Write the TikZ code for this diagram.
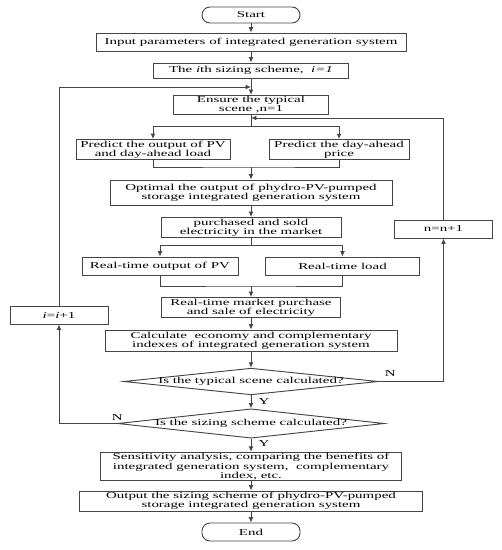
\documentclass[tikz,border=0pt]{standalone}
\usepackage{fontspec}
\setmainfont{Liberation Serif}[FakeStretch=1.65]
\usepackage{tikz}
\usetikzlibrary{arrows.meta}
\usetikzlibrary{shapes.geometric}
\usetikzlibrary{positioning}

\definecolor{linegray}{HTML}{454545}

\tikzset{
  box/.style={draw=linegray, line width=.7pt, align=center, inner sep=1pt},
  term/.style={box, rounded corners=6pt},
  decision/.style={draw=linegray, line width=.7pt, diamond, inner sep=0pt},
  flow/.style={draw=linegray, line width=.7pt, -{Latex[length=4pt,width=3.6pt]}},
  plain/.style={draw=linegray, line width=.7pt},
  yn/.style={font=\fontsize{6.8}{6.75}\selectfont}
}

\begin{document}
\begin{tikzpicture}[x=.75pt,y=-.75pt,font=\fontsize{6.8}{6.75}\selectfont]
\useasboundingbox (0,0) rectangle (502,550);
% main column
\node[term, minimum width=73.5pt, minimum height=12pt] (start) at (251,15) {Start};
\node[box, minimum width=232.5pt, minimum height=13.5pt] (input) at (251,42) {Input parameters of integrated generation system};
\node[box, minimum width=146pt, minimum height=11.25pt] (ith) at (251,70.5) {The \textit{i}th sizing scheme,\ \ \textit{i=1}};
\node[box, minimum width=116pt, minimum height=12pt] (ensure) at (251,105) {Ensure the typical\\scene ,n=1};
% day-ahead forecast
\node[box, minimum width=115.5pt, minimum height=14.25pt] (predpv) at (153,149.5) {Predict the output of PV\\and day-ahead load};
\node[box, minimum width=105pt, minimum height=14.25pt] (predprice) at (339,149.5) {Predict the day-ahead\\price};
\node[box, minimum width=211.5pt, minimum height=18.75pt] (optimal) at (251,192.5) {Optimal the output of phydro-PV-pumped\\storage integrated generation system};
\node[box, minimum width=135pt, minimum height=14.25pt] (purchased) at (251,227.5) {purchased and sold\\electricity in the market};
% real-time
\node[box, minimum width=117pt, minimum height=13.5pt] (rtpv) at (160,266) {Real-time output of PV};
\node[box, minimum width=116pt, minimum height=13.5pt] (rtload) at (342.5,266) {Real-time load};
\node[box, minimum width=134pt, minimum height=14.25pt] (market) at (251,307.5) {Real-time market purchase\\and sale of electricity};
\node[box, minimum width=219pt, minimum height=15.75pt] (calc) at (251,340.5) {Calculate\ \ economy and complementary\\indexes of integrated generation system};
% decisions
\node[decision, minimum width=191pt, minimum height=20pt, label={center:Is the typical scene calculated?}] (scene) at (251,381.5) {};
\node[decision, minimum width=200pt, minimum height=22pt, label={center:Is the sizing scheme calculated?}] (sizing) at (251,423.5) {};
\node[box, minimum width=226pt, minimum height=20pt] (sens) at (251,466.5) {Sensitivity analysis, comparing the benefits of\\integrated generation system,\ \ complementary\\index, etc.};
\node[box, minimum width=257pt, minimum height=13.5pt] (output) at (251,501) {Output the sizing scheme of phydro-PV-pumped\\storage integrated generation system};
\node[term, minimum width=73.5pt, minimum height=13.5pt] (end) at (251,532) {End};
% counters
\node[box, minimum width=74pt, minimum height=13.5pt] (nnext) at (443.5,229) {n=n+1};
\node[box, minimum width=73.5pt, minimum height=13.5pt] (inext) at (59,315) {\textit{i}=\textit{i}+1};
% junctions
\coordinate (split1) at (251,126);
\coordinate (merge1) at (251,167);
\coordinate (split2) at (251,245);
\coordinate (merge2) at (251,286);
\coordinate (back1) at (251,118);
\coordinate (back2) at (251,87);
% arrows
\draw[flow] (start) -- (input);
\draw[flow] (input) -- (ith);
\draw[flow] (ith) -- (ensure);
\draw[plain] (ensure) -- (split1);
\draw[flow] (split1) -| (predpv);
\draw[flow] (split1) -| (predprice);
\draw[plain] (predpv) |- (merge1) -| (predprice);
\draw[flow] (merge1) -- (optimal);
\draw[flow] (optimal) -- (purchased);
\draw[plain] (purchased) -- (split2);
\draw[flow] (split2) -| (rtpv);
\draw[flow] (split2) -| (rtload);
\draw[plain] (rtpv) |- (merge2) -| (rtload);
\draw[flow] (merge2) -- (market);
\draw[flow] (market) -- (calc);
\draw[flow] (calc) -- (scene);
\draw[flow] (scene) -- node[yn, right=2pt, pos=.45] {Y} (sizing);
\draw[flow] (sizing) -- node[yn, right=2pt, pos=.4] {Y} (sens);
\draw[flow] (sens) -- (output);
\draw[flow] (output) -- (end);
% loops
\draw[flow] (scene.east) -| (nnext.south);
\draw[flow] (nnext.north) |- (back1);
\node[yn, above right=0pt and 1pt of scene.east] (nlabel1) {N};
\draw[flow] (sizing.west) -| (inext.south);
\draw[flow] (inext.north) |- (back2);
\node[yn, above=-1pt of sizing.west] (nlabel2) {N};
\end{tikzpicture}
\end{document}
